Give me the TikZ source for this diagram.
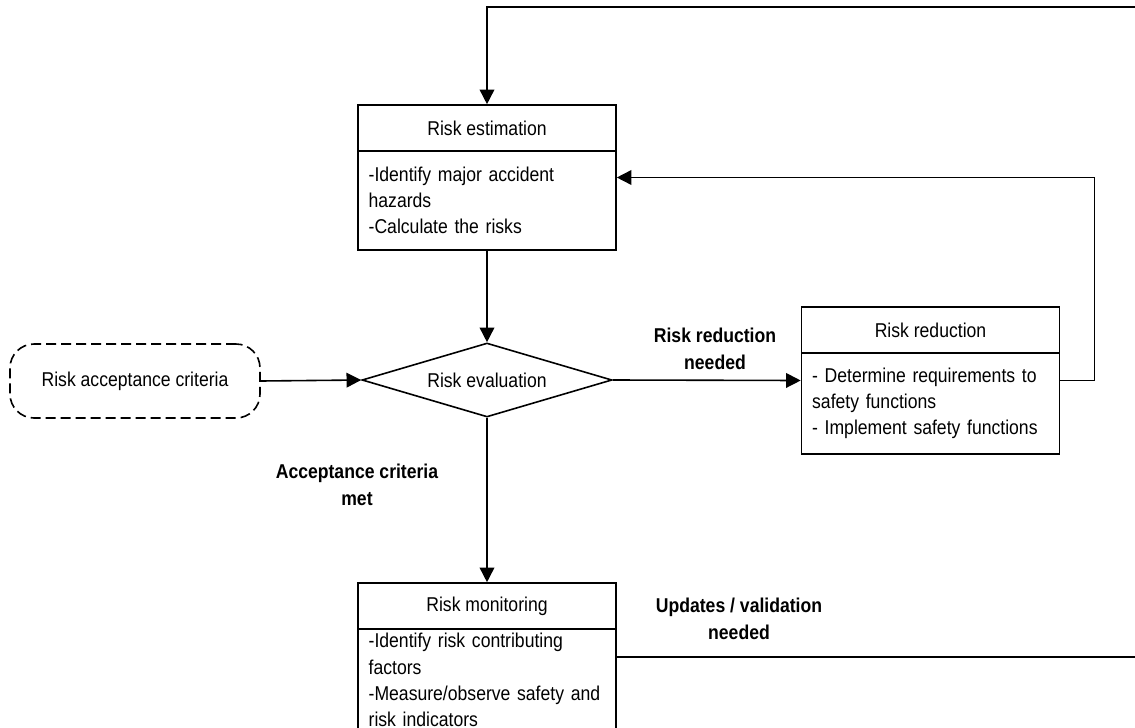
\documentclass[tikz,border=0pt]{standalone}
\usepackage{fontspec}
\setmainfont[FakeStretch=0.88]{Liberation Sans}
\usetikzlibrary{arrows.meta,shapes.geometric,fit}
\begin{document}
\begin{tikzpicture}[x=0.75pt,y=-0.75pt,
  line width=1.2pt,
  every node/.style={font=\fontsize{15}{19.6}\selectfont},
  headbox/.style={draw, minimum width=193.5pt, minimum height=34.5pt, inner sep=0pt},
  bodybox/.style={draw, text width=177.5pt, inner xsep=8pt, inner ysep=0pt, align=left},
  wholebox/.style={inner sep=0pt, outer sep=0pt},
  decision/.style={draw, diamond, shape aspect=3.38, minimum width=187.5pt,
    minimum height=55.5pt, inner sep=0pt},
  inputbox/.style={draw, dash pattern=on 7.5pt off 3.75pt, rounded corners=18pt,
    minimum width=187.5pt, minimum height=55.5pt, inner sep=0pt},
  flowlabel/.style={font=\fontsize{15}{20.3}\selectfont\bfseries, align=center},
  flow/.style={-{Triangle[length=11pt,width=11pt]}},
]
\useasboundingbox (0,0) rectangle (1135,728);
\clip (0,0) rectangle (1135,728);

% Risk estimation
\node[headbox] (estHead) at (487,128) {Risk estimation};
\node[bodybox, minimum height=74.25pt] (estBody) at (487,200.5)
  {-Identify major accident\\hazards\\-Calculate the risks};
\node[wholebox, fit=(estHead)(estBody)] (est) {};

% Risk evaluation and its input
\node[decision] (dia) at (487,380) {Risk evaluation};
\node[inputbox] (crit) at (135,381) {Risk acceptance criteria};

% Risk reduction
\node[headbox] (redHead) at (930.5,330) {Risk reduction};
\node[bodybox, minimum height=75.75pt] (redBody) at (930.5,403.5)
  {- Determine requirements to\\safety functions\\- Implement safety functions};
\node[wholebox, fit=(redHead)(redBody)] (red) {};

% Risk monitoring
\node[headbox] (monHead) at (487,606) {Risk monitoring};
\node[bodybox, minimum height=76.5pt] (monBody) at (487,680)
  {-Identify risk contributing\\factors\\-Measure/observe safety and\\risk indicators};
\node[wholebox, fit=(monHead)(monBody)] (mon) {};

% Connector labels
\node[flowlabel] (lblRed) at (715,348.5) {Risk reduction\\needed};
\node[flowlabel] (lblAcc) at (357,485) {Acceptance criteria\\met};
\node[flowlabel] (lblUpd) at (739,619) {Updates / validation\\needed};

% Loose ends of the outer feedback loop
\coordinate (loopTop) at (1135,7);
\coordinate (loopBottom) at (1135,657);

% Connectors
\draw[flow] (est.south) -- (dia.north);
\draw[flow] (crit.east) -- (dia.west);
\draw[flow] (dia.east) -- (red.west);
\draw[flow] (dia.south) -- (mon.north);
\draw[flow] (red.east) -- ++(34,0) |- (est.east);
\draw (mon.east) -- (loopBottom);
\draw[flow] (loopTop) -| (est.north);
\end{tikzpicture}
\end{document}
